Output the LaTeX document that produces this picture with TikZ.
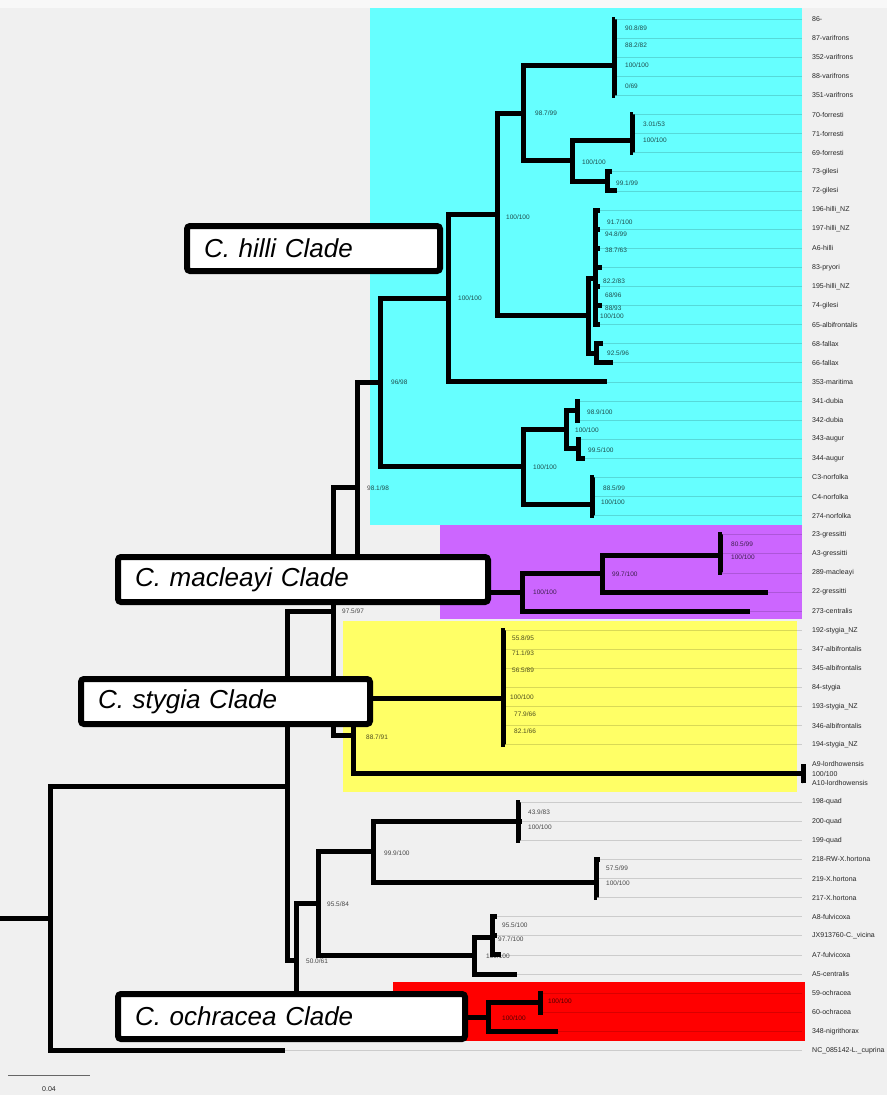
\documentclass[tikz,border=0pt]{standalone}
\usepackage{fontspec}
\setmainfont{Liberation Sans}
\usepackage{tikz}
\definecolor{TreeBack}{HTML}{F0F0F0}
\definecolor{TreeCyan}{HTML}{66FFFF}
\definecolor{TreeViolet}{HTML}{CC66FF}
\definecolor{TreeYellow}{HTML}{FFFF66}
\definecolor{TreeRed}{HTML}{FF0000}

\begin{document}
\begin{tikzpicture}[x=1pt,y=-1pt]
  \tikzstyle{branch}=[line width=5pt,line join=miter]
  \tikzstyle{tipline}=[line width=0.7pt,draw=black,draw opacity=0.15,shorten >=9pt]
  \tikzstyle{tiplab}=[anchor=west,inner sep=1pt,text=black!85,
    font=\fontsize{7}{8}\selectfont]
  \tikzstyle{support}=[anchor=west,inner sep=0pt,text=black,text opacity=0.7,
    font=\fontsize{6.5}{7}\selectfont]
  \tikzstyle{cladebox}=[draw=black,line width=6pt,fill=white,rounded corners=3pt,
    anchor=north west,inner xsep=17pt,inner ysep=0pt,minimum height=45pt,
    align=left,font=\fontsize{26}{28}\selectfont\itshape]

  % background and clade panels
  \useasboundingbox (0,0) rectangle (887,1095);
  \fill[TreeBack] (0,0) rectangle (887,1095);
  \fill[white!50!TreeBack] (0,0) rectangle (887,8);
  \fill[TreeCyan] (370,8) rectangle (802,525);
  \fill[TreeViolet] (440,525) rectangle (802,619);
  \fill[TreeYellow] (343,621) rectangle (797,792);
  \fill[TreeRed] (393,982) rectangle (805,1041);

  % tips
  \foreach \i/\tname/\bx in {0/86-/615, 1/87-varifrons/615, 2/352-varifrons/615,
      3/88-varifrons/615, 4/351-varifrons/615, 5/70-forresti/633, 6/71-forresti/633,
      7/69-forresti/633, 8/73-gilesi/612, 9/72-gilesi/617, 10/196-hilli\_NZ/600,
      11/197-hilli\_NZ/600, 12/A6-hilli/600, 13/83-pryori/602, 14/195-hilli\_NZ/600,
      15/74-gilesi/602, 16/65-albifrontalis/600, 17/68-fallax/603, 18/66-fallax/613,
      19/353-maritima/607, 20/341-dubia/580, 21/342-dubia/580, 22/343-augur/581,
      23/344-augur/585, 24/C3-norfolka/594, 25/C4-norfolka/594, 26/274-norfolka/594,
      27/23-gressitti/722, 28/A3-gressitti/722, 29/289-macleayi/722,
      30/22-gressitti/768, 31/273-centralis/750, 32/192-stygia\_NZ/505,
      33/347-albifrontalis/505, 34/345-albifrontalis/505, 35/84-stygia/505,
      36/193-stygia\_NZ/505, 37/346-albifrontalis/505, 38/194-stygia\_NZ/505,
      39/A9-lordhowensis/803, 40/A10-lordhowensis/803, 41/198-quad/520,
      42/200-quad/522, 43/199-quad/520, 44/218-RW-X.hortona/600,
      45/219-X.hortona/597, 46/217-X.hortona/597, 47/A8-fulvicoxa/497,
      48/JX913760-C.\_vicina/497, 49/A7-fulvicoxa/501, 50/A5-centralis/517,
      51/59-ochracea/543, 52/60-ochracea/543, 53/348-nigrithorax/558,
      54/NC\_085142-L.\_cuprina/285}{
    \pgfmathsetmacro\ty{19+19.1*\i}
    \coordinate (b\i) at (\bx,\ty);
    \node[tiplab] (t\i) at (811,\ty) {\tname};
    \draw[tipline] (b\i) -- (t\i.west);
  }
  \node[tiplab] (lordSupport) at (811,773.5) {100/100};

  % internal nodes
  \coordinate (base) at (0,918);
  \coordinate (root) at (50,918);
  \coordinate (nA) at (287,786);
  \coordinate (nB) at (333,611.5);
  \coordinate (nC) at (357,487.3);
  \coordinate (hilliAll) at (380,382.4);
  \coordinate (nH) at (448,298);
  \coordinate (nJ) at (497,214);
  \coordinate (nK) at (523,113);
  \coordinate (vari) at (614,65);
  \coordinate (nN) at (572,160.5);
  \coordinate (forr) at (632,140);
  \coordinate (giles) at (607,181);
  \coordinate (nL) at (588,315.5);
  \coordinate (hilli) at (595,278);
  \coordinate (fallax) at (596,353);
  \coordinate (nI) at (523,466.8);
  \coordinate (nS) at (566,429.6);
  \coordinate (dubia) at (577,410.5);
  \coordinate (augur) at (578,448.8);
  \coordinate (norf) at (592,504);
  \coordinate (macl) at (522,592.3);
  \coordinate (nW) at (602,573.5);
  \coordinate (gress) at (720,555);
  \coordinate (styAll) at (353,735.7);
  \coordinate (stygia) at (503,698);
  \coordinate (lord) at (803,773.5);
  \coordinate (nY) at (296,960);
  \coordinate (nZ) at (318,903.5);
  \coordinate (nAB) at (373,851.6);
  \coordinate (quad) at (518,821.2);
  \coordinate (hort) at (596,882);
  \coordinate (nAE) at (474,955.5);
  \coordinate (fulvi) at (492,937);
  \coordinate (ochrAll) at (488,1017);
  \coordinate (ochr) at (540,1002.6);

  % branches
  \draw[branch] (base) -- (root);
  \foreach \p/\c in {root/nA, root/b54, nA/nB, nA/nY, nB/nC, nB/styAll,
      nC/hilliAll, nC/macl, hilliAll/nH, hilliAll/nI, nH/nJ, nH/b19,
      nJ/nK, nJ/nL, nK/vari, nK/nN, vari/b0, vari/b1, vari/b2, vari/b3, vari/b4,
      nN/forr, nN/giles, forr/b5, forr/b6, forr/b7, giles/b8, giles/b9,
      nL/hilli, nL/fallax, hilli/b10, hilli/b11, hilli/b12, hilli/b13, hilli/b14,
      hilli/b15, hilli/b16, fallax/b17, fallax/b18,
      nI/nS, nI/norf, nS/dubia, nS/augur, dubia/b20, dubia/b21, augur/b22,
      augur/b23, norf/b24, norf/b25, norf/b26,
      macl/nW, macl/b31, nW/gress, nW/b30, gress/b27, gress/b28, gress/b29,
      styAll/stygia, styAll/lord, lord/b39, lord/b40, stygia/b32, stygia/b33,
      stygia/b34, stygia/b35, stygia/b36, stygia/b37, stygia/b38,
      nY/nZ, nY/ochrAll, nZ/nAB, nZ/nAE, nAB/quad, nAB/hort, quad/b41, quad/b42,
      quad/b43, hort/b44, hort/b45, hort/b46, nAE/fulvi, nAE/b50, fulvi/b47,
      fulvi/b48, fulvi/b49, ochrAll/ochr, ochrAll/b53, ochr/b51, ochr/b52}
    \draw[branch] (\p) |- (\c);

  % support values
  \foreach \x/\y/\a/\b [count=\k] in {625/28/90.8/89, 625/45/88.2/82, 625/65/100/100,
      625/86/0/69, 535/113/98.7/99, 643/124/3.01/53, 643/140/100/100,
      582/162/100/100, 616/183/99.1/99, 506/217/100/100, 458/298/100/100,
      607/222/91.7/100, 605/234/94.8/99, 605/250/38.7/63, 603/281/82.2/83,
      605/295/68/96, 605/308/88/93, 600/316/100/100, 607/353/92.5/96,
      391/382/96/98, 587/412/98.9/100, 575/430/100/100, 588/450/99.5/100,
      533/467/100/100, 603/488/88.5/99, 601/502/100/100, 367/488/98.1/98,
      731/544/80.5/99, 731/557/100/100, 612/574/99.7/100, 533/592/100/100,
      342/611/97.5/97, 512/638/55.8/95, 512/653/71.1/93, 512/670/56.5/89,
      510/697/100/100, 514/714/77.9/66, 514/731/82.1/66, 366/737/88.7/91,
      528/812/43.9/83, 528/827/100/100, 384/853/99.9/100, 606/868/57.5/99,
      606/883/100/100, 327/904/95.5/84, 502/925/95.5/100, 498/939/97.7/100,
      486/956/100/100, 306/961/50.0/61, 548/1001/100/100, 502/1018/100/100}
    \node[support] (sv\k) at (\x,\y) {\a/\b};

  % clade labels
  \node[cladebox,text width=219pt] (hilliBox) at (184,223) {C. hilli Clade};
  \node[cladebox,text width=336pt] (macleayiBox) at (115,554) {C. macleayi Clade};
  \node[cladebox,text width=255pt] (stygiaBox) at (78,676) {C. stygia Clade};
  \node[cladebox,text width=313pt] (ochraceaBox) at (115,991) {C. ochracea Clade};

  % scale bar
  \coordinate (barL) at (8,1075);
  \coordinate (barR) at (90,1075);
  \draw[black!60,line width=1pt] (barL) -- (barR);
  \node[tiplab,anchor=center] (barLab) at (49,1089) {0.04};
\end{tikzpicture}
\end{document}
